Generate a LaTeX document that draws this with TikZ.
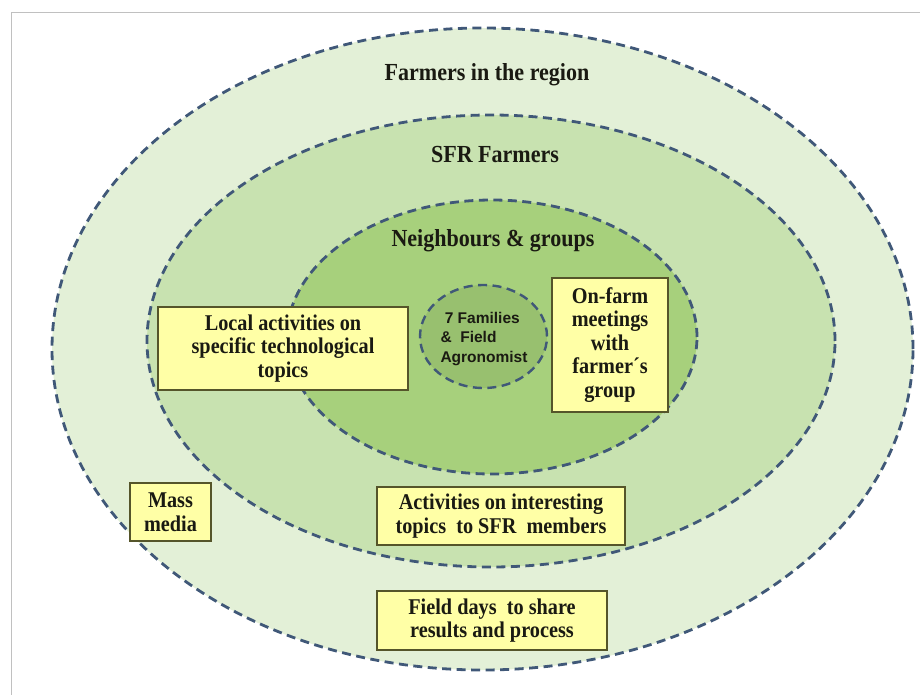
\documentclass[tikz,border=0pt]{standalone}
\usepackage{fontspec}
\setmainfont{Liberation Serif}[FakeStretch=0.9]
\newfontfamily\sansf{Liberation Sans}
\usetikzlibrary{shapes.geometric}
\definecolor{outerfill}{HTML}{E3F0D7}
\definecolor{sfrfill}{HTML}{C8E2B0}
\definecolor{nbrfill}{HTML}{A7D07C}
\definecolor{corefill}{HTML}{98C06F}
\definecolor{dashcol}{HTML}{405878}
\definecolor{boxfill}{HTML}{FFFFA6}
\definecolor{boxline}{HTML}{55552A}
\definecolor{framecol}{HTML}{C0C0C0}
\definecolor{txt}{HTML}{1A1A12}
\begin{document}
\begin{tikzpicture}[x=1pt,y=-1pt,
  ring/.style={ellipse, draw=dashcol, line width=2.8pt, dash pattern=on 9pt off 5.5pt, inner sep=0pt},
  infobox/.style={rectangle, draw=boxline, fill=boxfill, line width=2.2pt, inner sep=0pt, align=center,
    font=\fontsize{22.5}{23.5}\selectfont\bfseries, text=txt},
  title/.style={font=\fontsize{24.5}{26}\selectfont\bfseries, text=txt, inner sep=0pt}
]
\useasboundingbox (0,0) rectangle (920,695);
\fill[white] (0,0) rectangle (920,695);
\coordinate (ftl) at (11,13);
\coordinate (ftr) at (920,13);
\coordinate (fbl) at (11,695);
\draw[framecol, line width=1pt] (ftr) -- (ftl) -- (fbl);

\node[ring, fill=outerfill, minimum width=861pt, minimum height=642pt] (outer) at (482.5,349) {};
\node[ring, fill=sfrfill, minimum width=688pt, minimum height=452pt] (sfr) at (491,341) {};
\node[ring, fill=nbrfill, minimum width=410pt, minimum height=274pt] (nbr) at (492,337) {};
\node[ring, fill=corefill, minimum width=127pt, minimum height=103pt, line width=2.4pt] (core) at (483.5,336.5) {};

\node[title] (t1) at (487,75) {Farmers in the region};
\node[title] (t2) at (495,155) {SFR Farmers};
\node[title] (t3) at (493,241) {Neighbours \& groups};

\node[font=\sansf\bfseries\fontsize{15.5}{19.5}\selectfont, align=left, text=txt, inner sep=0pt] (coretxt) at (484,339)
  {\ 7 Families\\\&\ \ Field\\Agronomist};

\node[infobox, minimum width=250pt, minimum height=83pt] (local) at (283,348.5)
  {Local activities on\\specific technological\\topics};
\node[infobox, minimum width=116pt, minimum height=134pt] (onfarm) at (610,345)
  {On-farm\\meetings\\with\\farmer´s\\group};
\node[infobox, minimum width=81pt, minimum height=58pt] (mass) at (170.5,512)
  {Mass\\media};
\node[infobox, minimum width=248pt, minimum height=58pt] (act) at (501,516)
  {Activities on interesting\\topics\ \ to SFR\ \ members};
\node[infobox, minimum width=230pt, minimum height=59pt] (field) at (492,620.5)
  {Field days\ \ to share\\results and process};
\end{tikzpicture}
\end{document}
